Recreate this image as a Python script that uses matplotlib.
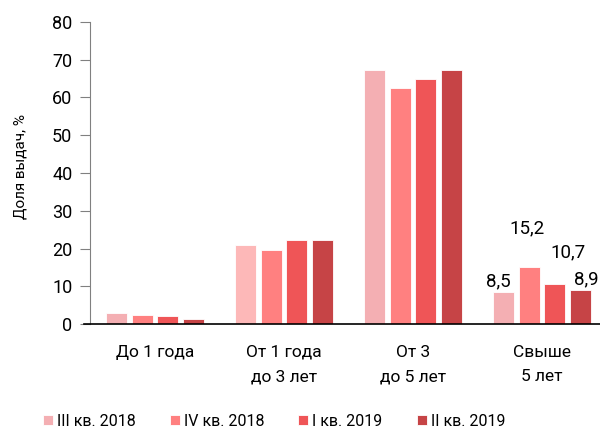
import numpy as np
import matplotlib.pyplot as plt

plt.rcParams['font.family'] = ['Roboto', 'DejaVu Sans']

# Data
categories = ["До 1 года", "От 1 года\nдо 3 лет", "От 3\nдо 5 лет", "Свыше\n5 лет"]
series_names = ["III кв. 2018", "IV кв. 2018", "I кв. 2019", "II кв. 2019"]
q3_2018 = [3.0, 20.9, 67.2, 8.5]
q4_2018 = [2.4, 19.6, 62.5, 15.2]
q1_2019 = [2.1, 22.2, 64.8, 10.7]
q2_2019 = [1.4, 22.2, 67.4, 8.9]
colors = ["#F4AFB3", "#FF8080", "#EF5557", "#C64446"]

# label offsets (points) for the last group only: (dx, dy)
label_offsets = [(-4, 4.3), (-1.5, 23.8), (9.7, 19), (4, 4.6)]

series = [q3_2018, q4_2018, q1_2019, q2_2019]

fig = plt.figure(figsize=(6, 4.32), dpi=100)
ax = fig.add_axes([84 / 600, 1 - 324 / 432, 516 / 600, 302 / 432])

x = np.arange(len(categories))
step = 0.198
width = 0.165
for i, (vals, name, c) in enumerate(zip(series, series_names, colors)):
    pos = x + (i - 1.5) * step
    bars = ax.bar(pos, vals, width, color=c, edgecolor="white", linewidth=0.6, label=name)
    if i == 0:
        bars[1].set_facecolor("#FDB8B8")
    # value label on "Свыше 5 лет"
    b = bars[-1]
    ax.annotate(f"{vals[-1]:.1f}".replace(".", ","),
                (b.get_x() + b.get_width() / 2, b.get_height()),
                xytext=label_offsets[i], textcoords="offset points",
                ha="center", va="baseline", fontsize=13.5,
                annotation_clip=False)

ax.set_xlim(-0.55, 3.45)
ax.set_ylim(0, 80)
ax.set_yticks(range(0, 81, 10))
ax.set_xticks(x)
ax.set_xticklabels(categories, fontsize=12.5, linespacing=1.8)
ax.tick_params(axis="x", length=0, pad=15)
ax.tick_params(axis="y", labelsize=13, length=7, color="#808080", pad=6)

ax.spines["top"].set_visible(False)
ax.spines["right"].set_visible(False)
ax.spines["left"].set_position(("data", -0.5))
ax.spines["left"].set_color("#808080")
ax.spines["bottom"].set_color("black")
ax.spines["bottom"].set_linewidth(1.2)

ax.set_ylabel("Доля выдач, %", fontsize=11)
ax.yaxis.set_label_coords(-0.11, 0.52)

fig.legend(loc="center left", bbox_to_anchor=(43 / 600, 1 - 421 / 432), ncol=4,
           frameon=False, fontsize=11.5, handlelength=0.63, handleheight=0.63,
           handletextpad=0.25, columnspacing=2.13, borderpad=0, borderaxespad=0)

plt.savefig("out.png", dpi=100)
